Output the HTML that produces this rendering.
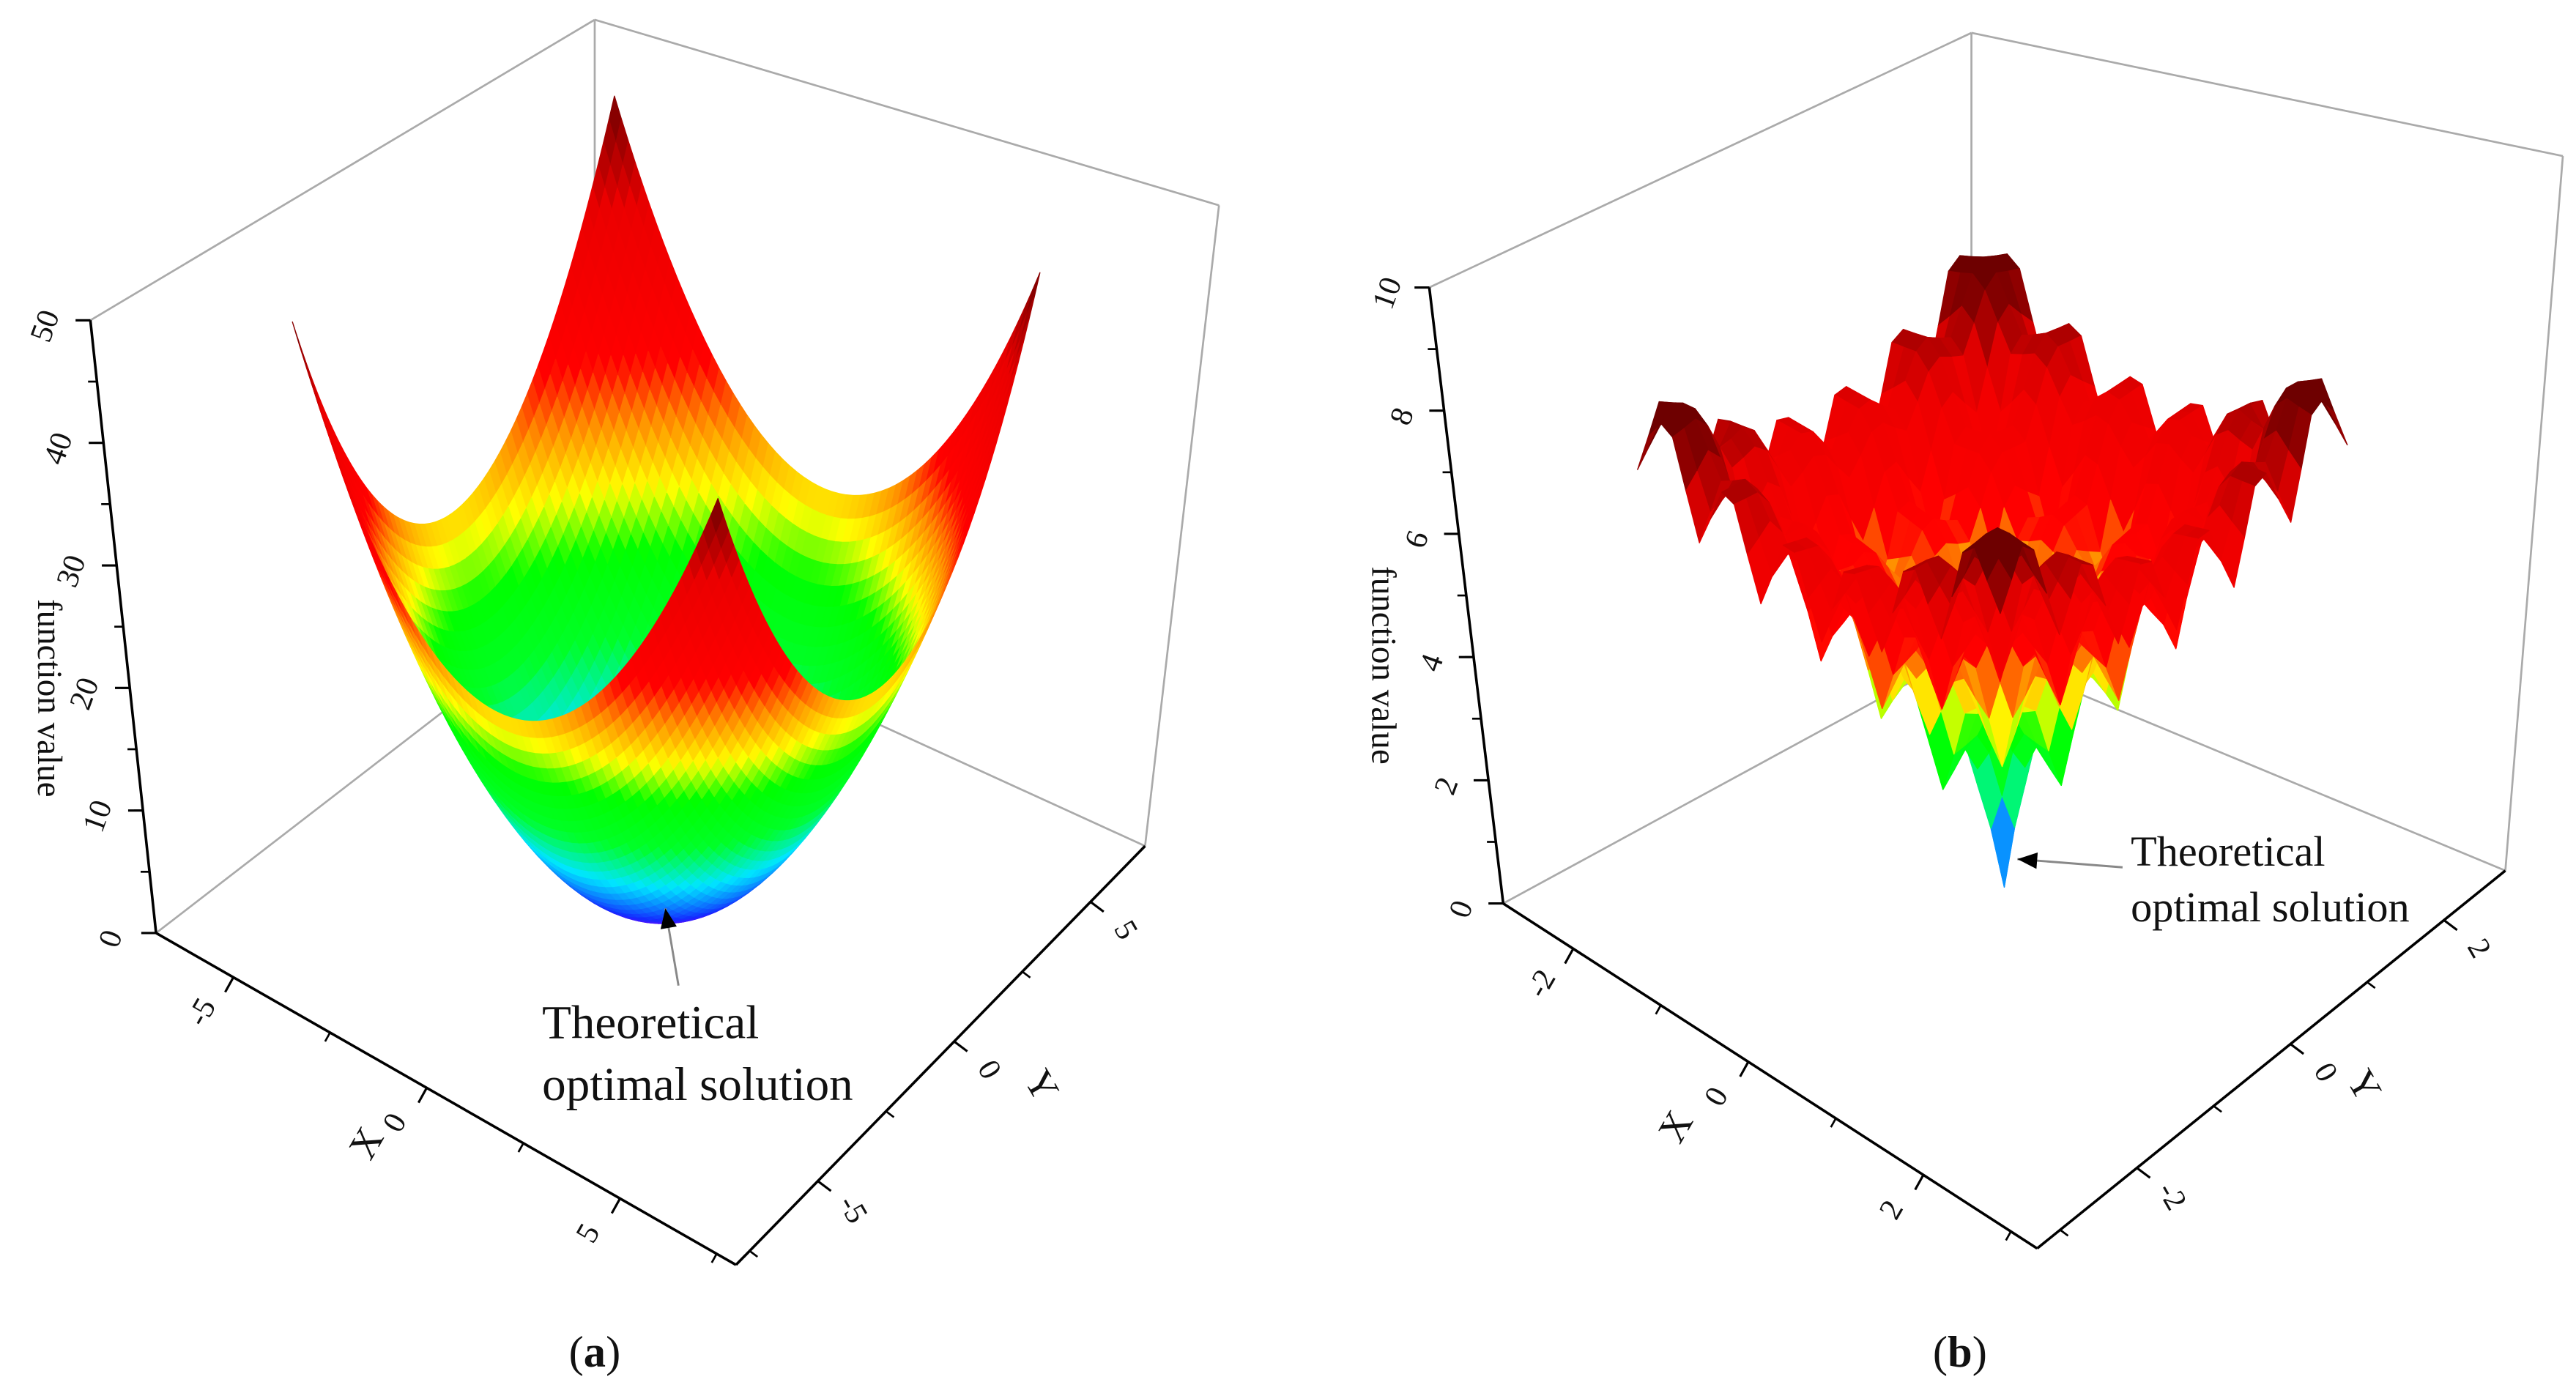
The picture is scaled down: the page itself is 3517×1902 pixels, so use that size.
<!DOCTYPE html>
<html><head><meta charset="utf-8"><style>
html,body{margin:0;padding:0;background:#fff}
svg{display:block}
text{font-family:"Liberation Serif",serif;fill:#111}
</style></head><body>
<svg id="fig" width="3517" height="1902" viewBox="0 0 1568 848" preserveAspectRatio="none" xmlns="http://www.w3.org/2000/svg">
<g id="pa"></g>
<g id="pb"></g>
<text x="362" y="832" font-size="27" text-anchor="middle">(<tspan font-weight="bold">a</tspan>)</text>
<text x="1193" y="832" font-size="27" text-anchor="middle">(<tspan font-weight="bold">b</tspan>)</text>
</svg>
<script>
// tick labels
const zTicksA = [0,10,20,30,40,50];
const xTicksA = [-5,0,5];
const yTicksA = [-5,0,5];
const zTicksB = [0,2,4,6,8,10];
const xTicksB = [-2,0,2];
const yTicksB = [-2,0,2];
const domainA = [-5,5];
const domainB = [-3,3];
const NS="http://www.w3.org/2000/svg";
function mk(parent,tag,attrs){const e=document.createElementNS(NS,tag);for(const k in attrs)e.setAttribute(k,attrs[k]);parent.appendChild(e);return e;}
const stops=[[0,[150,0,255]],[0.06,[20,40,255]],[0.17,[0,230,255]],[0.27,[0,255,40]],[0.38,[0,255,0]],[0.46,[255,255,0]],[0.55,[255,140,0]],[0.63,[255,0,0]],[0.84,[235,0,0]],[1,[110,0,0]]];
function cmap(t){t=Math.max(0,Math.min(1,t));for(let i=1;i<stops.length;i++){if(t<=stops[i][0]){const a=stops[i-1],b=stops[i];const f=(t-a[0])/(b[0]-a[0]);return 'rgb('+a[1].map((c,j)=>Math.round(c+(b[1][j]-c)*f)).join(',')+')';}}return 'rgb(110,0,0)';}
function sphere(x,y){return x*x+y*y;}
function ackley(x,y){return -20*Math.exp(-0.2*Math.sqrt(0.5*(x*x+y*y)))-Math.exp(0.5*(Math.cos(2*Math.PI*x)+Math.cos(2*Math.PI*y)))+Math.E+20;}
function surface(g,f,dom,n,P,zmax,name){
  const q=[];const h=(dom[1]-dom[0])/n;
  for(let i=0;i<n;i++)for(let j=0;j<n;j++){
    const x0=dom[0]+i*h,y0=dom[0]+j*h,x1=x0+h,y1=y0+h;
    const pts=[[x0,y0],[x1,y0],[x1,y1],[x0,y1]].map(p=>[p[0],p[1],f(p[0],p[1])]);
    const zc=pts.reduce((s,p)=>s+p[2],0)/4;
    q.push({pts,zc,d:(x0+x1)/2-(y0+y1)/2});
  }
  q.sort((a,b)=>a.d-b.d);
  const sg=mk(g,'g',{});
  
  
  for(const c of q){const col=cmap(c.zc/zmax);
    mk(sg,'polygon',{points:c.pts.map(p=>P(p[0],p[1],p[2]).map(v=>v.toFixed(2)).join(',')).join(' '),fill:col,stroke:col,'stroke-width':0.6,'stroke-linejoin':'round'});}
}
function lerp(a,b,t){return [a[0]+(b[0]-a[0])*t,a[1]+(b[1]-a[1])*t];}
function line(g,a,b,col,w,name){const l=mk(g,'line',{x1:a[0],y1:a[1],x2:b[0],y2:b[1],stroke:col,'stroke-width':w});return l;}
function axis(g,a,b,lo,hi,ticks,minorStep,tdir,loff,rot,fs,name){
  line(g,a,b,'#000',1.6,name+'-line');
  for(let v=Math.ceil(lo/minorStep)*minorStep;v<=hi+1e-9;v+=minorStep){const p=lerp(a,b,(v-lo)/(hi-lo));line(g,p,[p[0]+tdir[0]*0.6,p[1]+tdir[1]*0.6],'#000',1.2,name+'-minor-tick');}
  for(const v of ticks){const p=lerp(a,b,(v-lo)/(hi-lo));line(g,p,[p[0]+tdir[0],p[1]+tdir[1]],'#000',1.4,name+'-tick');
    const t=mk(g,'text',{x:p[0]+loff[0],y:p[1]+loff[1],'font-size':fs,'text-anchor':'middle','dominant-baseline':'middle',transform:`rotate(${rot} ${p[0]+loff[0]} ${p[1]+loff[1]})`});
    t.textContent=v;}
}
function label(g,txt,x,y,rot,fs,name){const t=mk(g,'text',{x,y,'font-size':fs,'text-anchor':'middle','dominant-baseline':'middle',transform:`rotate(${rot} ${x} ${y})`});t.textContent=txt;}
function annot(g,lines,tx,ty,fs,from,to,name){
  line(g,from,to,'#888',1.3,name+'-leader');
  const dx=to[0]-from[0],dy=to[1]-from[1],L=Math.hypot(dx,dy),ux=dx/L,uy=dy/L;
  const a=mk(g,'polygon',{points:`${to[0]},${to[1]} ${to[0]-ux*12-uy*5},${to[1]-uy*12+ux*5} ${to[0]-ux*12+uy*5},${to[1]-uy*12-ux*5}`,fill:'#000'});
  
  lines.forEach((s,i)=>{const t=mk(g,'text',{x:tx,y:ty+i*fs*1.3,'font-size':fs});t.textContent=s;});
}
// ---------- panel a ----------
(function(){
  const g=document.getElementById('pa');
  const P=(x,y,z)=>[403+25.9*x+19.6*y+0.05*z,552+10.75*x-13.75*y-7.42*z];
  const c={lb:[95,568],fb:[448,770],rb:[697,515],bb:[362,362],lt:[55,195],bt:[362,12],rt:[742,125]};
  const bx='#aaa';
  line(g,c.bb,c.bt,bx,1.2,'box-edge');line(g,c.lt,c.bt,bx,1.2,'box-edge');line(g,c.bt,c.rt,bx,1.2,'box-edge');
  line(g,c.rt,c.rb,bx,1.2,'box-edge');line(g,c.lb,c.bb,bx,1.2,'box-edge');line(g,c.bb,c.rb,bx,1.2,'box-edge');
  surface(g,sphere,domainA,60,P,50,'surface-sphere');
  axis(g,c.lb,c.lt,0,50,zTicksA,5,[-9,0],[-26,4],-70,19,'z-axis-a');
  axis(g,c.lb,c.fb,-7,8,xTicksA,2.5,[-5,9],[-18,22],-60,19,'x-axis-a');
  axis(g,c.fb,c.rb,-8,7,yTicksA,2.5,[8,6],[20,18],60,19,'y-axis-a');
  label(g,'function value',28,425,90,21,'z-axis-title-a');
  label(g,'X',225,697,-60,24,'x-axis-title-a');
  label(g,'Y',632,662,60,24,'y-axis-title-a');
  annot(g,['Theoretical','optimal solution'],330,632,29,[413,600],[405,553],'annotation-a');
})();
// ---------- panel b ----------
(function(){
  const g=document.getElementById('pb');
  const P=(x,y,z)=>[1220+36.8*x+35.2*y-0.8*z,540+14.6*x-17.1*y-29*z];
  const c={lb:[915,550],fb:[1240,760],rb:[1525,530],bb:[1200,395],lt:[870,175],bt:[1200,20],rt:[1560,95]};
  const bx='#aaa';
  line(g,c.bb,c.bt,bx,1.2,'box-edge');line(g,c.lt,c.bt,bx,1.2,'box-edge');line(g,c.bt,c.rt,bx,1.2,'box-edge');
  line(g,c.rt,c.rb,bx,1.2,'box-edge');line(g,c.lb,c.bb,bx,1.2,'box-edge');line(g,c.bb,c.rb,bx,1.2,'box-edge');
  surface(g,ackley,domainB,30,P,10,'surface-ackley');
  axis(g,c.lb,c.lt,0,10,zTicksB,1,[-9,0],[-24,4],-70,19,'z-axis-b');
  axis(g,c.lb,c.fb,-2.8,3.3,xTicksB,1,[-5,9],[-18,22],-60,19,'x-axis-b');
  axis(g,c.fb,c.rb,-3.3,2.8,yTicksB,1,[8,6],[20,18],60,19,'y-axis-b');
  label(g,'function value',840,405,90,21,'z-axis-title-b');
  label(g,'X',1022,687,-60,24,'x-axis-title-b');
  label(g,'Y',1437,662,60,24,'y-axis-title-b');
  annot(g,['Theoretical','optimal solution'],1297,527,26,[1292,528],[1228,523],'annotation-b');
})();
</script>
</body></html>
